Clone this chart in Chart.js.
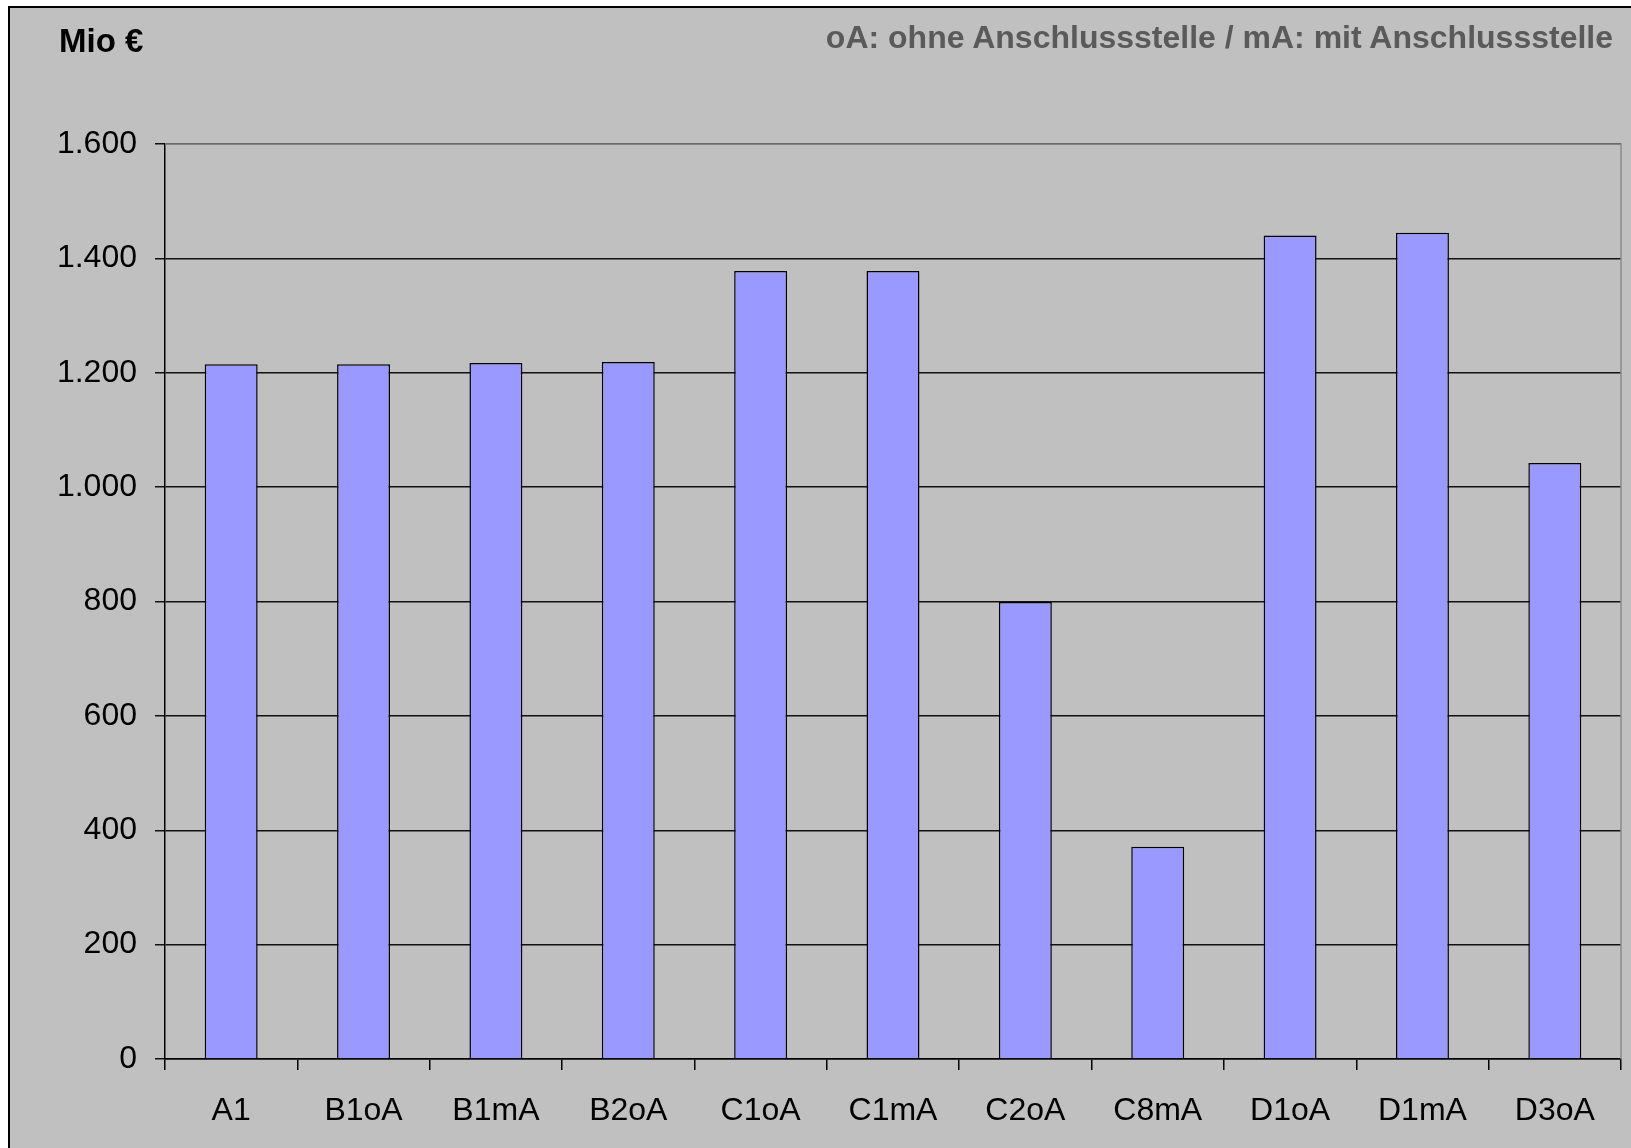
<!DOCTYPE html>
<html>
<head>
<meta charset="utf-8">
<script src="https://cdn.jsdelivr.net/npm/chart.js@4.4.1/dist/chart.umd.min.js"></script>
<style>
  html, body { margin: 0; padding: 0; background: #ffffff; overflow: hidden; width: 1631px; height: 1148px; }
  #frame { position: absolute; left: 8px; top: 6px; width: 1650px; height: 1170px; background: #c0c0c0; border-left: 2px solid #000; border-top: 2px solid #000; }
  #chart { position: absolute; left: 0; top: 0; }
  .lbl { position: absolute; font-family: "Liberation Sans", Arial, sans-serif; font-weight: bold; font-size: 32px; line-height: 32px; white-space: nowrap; }
  #unit { left: 59px; top: 25px; color: #000; font-size: 33px; }
  #note { right: 18px; top: 21px; color: #5a5a5a; }
</style>
</head>
<body>
<div id="frame"></div>
<canvas id="chart" width="1631" height="1148"></canvas>
<div class="lbl" id="unit">Mio €</div>
<div class="lbl" id="note">oA: ohne Anschlussstelle / mA: mit Anschlussstelle</div>
<script>
const categories = ["A1", "B1oA", "B1mA", "B2oA", "C1oA", "C1mA", "C2oA", "C8mA", "D1oA", "D1mA", "D3oA"];
const costs = [1215, 1215, 1217, 1219, 1378, 1378, 799, 371, 1440, 1445, 1042];
const yTicks = [0, 200, 400, 600, 800, 1000, 1200, 1400, 1600];

function fmt(v) {
  return String(v).replace(/\B(?=(\d{3})+(?!\d))/g, ".");
}

const plotBorder = {
  id: 'plotBorder',
  afterDraw(chart) {
    const a = chart.chartArea, c = chart.ctx;
    c.save();
    c.strokeStyle = '#8a8a8a';
    c.lineWidth = 1.5;
    c.beginPath();
    c.moveTo(a.left, a.top);
    c.lineTo(a.right, a.top);
    c.lineTo(a.right, a.bottom);
    c.stroke();
    c.restore();
  }
};

const font = { family: '"Liberation Sans", Arial, sans-serif', size: 32 };

new Chart(document.getElementById('chart'), {
  type: 'bar',
  data: {
    labels: categories,
    datasets: [{
      data: costs,
      backgroundColor: '#9999ff',
      borderColor: '#000000',
      borderWidth: 1.5,
      barPercentage: 0.4,
      categoryPercentage: 1.0
    }]
  },
  options: {
    responsive: false,
    animation: false,
    layout: { padding: { top: 144, left: 0, right: 10, bottom: 0 } },
    plugins: { legend: { display: false }, tooltip: { enabled: false } },
    scales: {
      x: {
        offset: true,
        grid: { offset: true, drawOnChartArea: false, drawTicks: true, tickLength: 11, color: '#000', lineWidth: 1.5 },
        border: { color: '#000', width: 1.5 },
        ticks: { color: '#000', font: font, padding: 22, maxRotation: 0, autoSkip: false },
        afterFit(s) { s.height = 89; }
      },
      y: {
        min: 0, max: 1600,
        afterBuildTicks(s) { s.ticks = yTicks.map(v => ({ value: v })); },
        grid: { color: '#111', lineWidth: 1.5, tickLength: 10 },
        border: { color: '#000', width: 1.5 },
        ticks: { color: '#000', font: font, padding: 18, callback: v => fmt(v) },
        afterFit(s) { s.width = 165; }
      }
    }
  },
  plugins: [plotBorder]
});
</script>
</body>
</html>
